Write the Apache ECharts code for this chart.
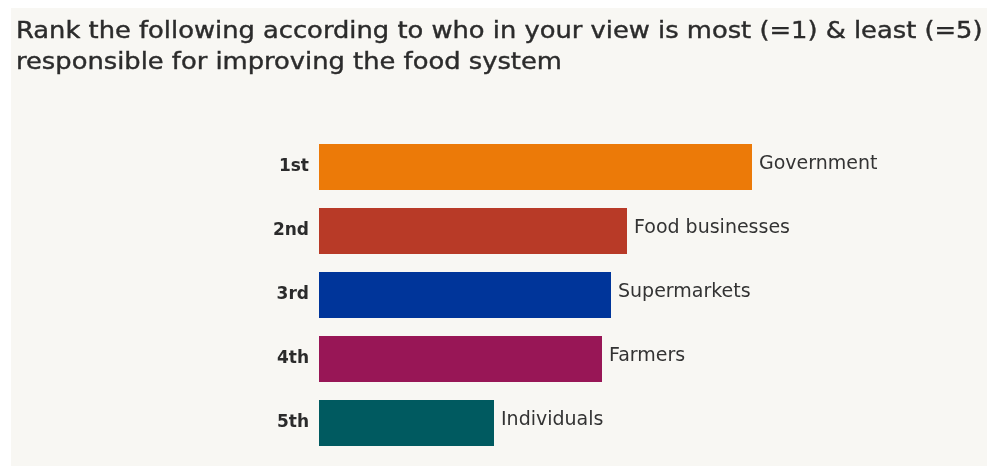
<!DOCTYPE html>
<html>
<head>
<meta charset="utf-8">
<script src="https://cdn.jsdelivr.net/npm/echarts@6/dist/echarts.min.js"></script>
<style>
  html, body { margin: 0; padding: 0; background: #ffffff; }
  #chart { width: 987px; height: 466px; }
</style>
</head>
<body>
<div id="chart"></div>
<script>
// Ranking categories (top to bottom) and the stakeholder each rank went to
const ranks = ['1st', '2nd', '3rd', '4th', '5th'];
const stakeholders = ['Government', 'Food businesses', 'Supermarkets', 'Farmers', 'Individuals'];
// Relative score per rank
const scores = [43.3, 30.8, 29.2, 28.3, 17.5];
const barColors = ['#ec7a08', '#b83a27', '#00359a', '#981656', '#005a60'];
const titleLines = [
  'Rank the following according to who in your view is most (=1) & least (=5)',
  'responsible for improving the food system'
];

const chart = echarts.init(document.getElementById('chart'), null, { renderer: 'canvas' });

const fontFamily = '"DejaVu Sans", "Noto Sans", sans-serif';

chart.setOption({
  animation: false,
  backgroundColor: '#ffffff',
  graphic: [{
    type: 'rect',
    left: 11, top: 8,
    shape: { width: 976, height: 458 },
    style: { fill: '#f8f7f3' },
    z: -10
  }, {
    // Two-line heading, widened slightly to the panel width
    type: 'text',
    x: 16, y: 17,
    scaleX: 1.12,
    style: {
      text: titleLines.join('\n'),
      font: '23px "DejaVu Sans", sans-serif',
      lineHeight: 31,
      fill: '#2b2b2b',
      stroke: '#2b2b2b',
      lineWidth: 0.4,
      verticalAlign: 'top',
      align: 'left'
    }
  }],
  grid: { left: 319, top: 135, width: 500, height: 320 },
  xAxis: {
    type: 'value', min: 0, max: 50,
    show: false
  },
  yAxis: {
    type: 'category',
    data: ranks,
    inverse: true,
    axisLine: { show: false },
    axisTick: { show: false },
    splitLine: { show: false },
    axisLabel: {
      margin: 10,
      fontFamily: fontFamily,
      fontSize: 17,
      fontWeight: 'bold',
      color: '#2b2b2b'
    }
  },
  series: [{
    type: 'bar',
    data: scores.map((v, i) => ({ value: v, itemStyle: { color: barColors[i] } })),
    barWidth: 46,
    label: {
      show: true,
      position: 'right',
      distance: 7,
      formatter: p => stakeholders[p.dataIndex],
      fontFamily: fontFamily,
      fontSize: 19,
      color: '#333333',
      offset: [0, -3]
    }
  }]
});
</script>
</body>
</html>
